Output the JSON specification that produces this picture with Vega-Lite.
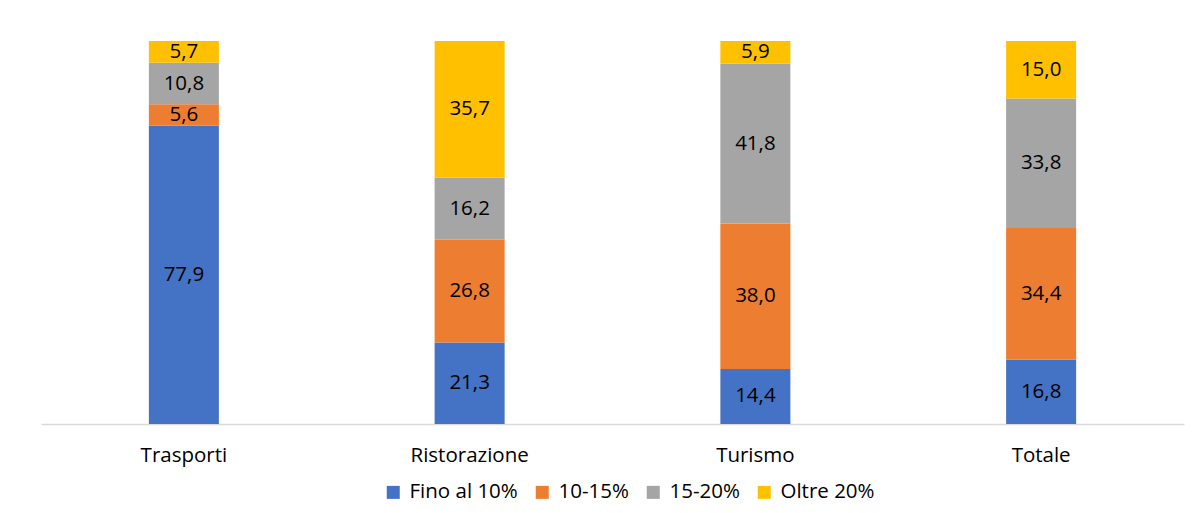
{
  "$schema": "https://vega.github.io/schema/vega-lite/v6.json",
  "width": 1143,
  "height": 383,
  "autosize": "none",
  "padding": {"left": 41, "top": 41, "right": 16, "bottom": 89},
  "background": "white",
  "config": {
    "locale": {"number": {"decimal": ",", "thousands": ".", "grouping": [3], "currency": ["€", ""]}},
    "view": {"stroke": null},
    "font": "Open Sans"
  },
  "data": {
    "values": [
      {"settore": "Trasporti", "classe": "Fino al 10%", "ord": 1, "valore": 77.9},
      {"settore": "Trasporti", "classe": "10-15%", "ord": 2, "valore": 5.6},
      {"settore": "Trasporti", "classe": "15-20%", "ord": 3, "valore": 10.8},
      {"settore": "Trasporti", "classe": "Oltre 20%", "ord": 4, "valore": 5.7},
      {"settore": "Ristorazione", "classe": "Fino al 10%", "ord": 1, "valore": 21.3},
      {"settore": "Ristorazione", "classe": "10-15%", "ord": 2, "valore": 26.8},
      {"settore": "Ristorazione", "classe": "15-20%", "ord": 3, "valore": 16.2},
      {"settore": "Ristorazione", "classe": "Oltre 20%", "ord": 4, "valore": 35.7},
      {"settore": "Turismo", "classe": "Fino al 10%", "ord": 1, "valore": 14.4},
      {"settore": "Turismo", "classe": "10-15%", "ord": 2, "valore": 38.0},
      {"settore": "Turismo", "classe": "15-20%", "ord": 3, "valore": 41.8},
      {"settore": "Turismo", "classe": "Oltre 20%", "ord": 4, "valore": 5.9},
      {"settore": "Totale", "classe": "Fino al 10%", "ord": 1, "valore": 16.8},
      {"settore": "Totale", "classe": "10-15%", "ord": 2, "valore": 34.4},
      {"settore": "Totale", "classe": "15-20%", "ord": 3, "valore": 33.8},
      {"settore": "Totale", "classe": "Oltre 20%", "ord": 4, "valore": 15.0}
    ]
  },
  "transform": [
    {"stack": "valore", "groupby": ["settore"], "sort": [{"field": "ord", "order": "ascending"}], "offset": "normalize", "as": ["y0", "y1"]},
    {"calculate": "(datum.y0 + datum.y1) / 2", "as": "ymid"}
  ],
  "encoding": {
    "x": {
      "field": "settore",
      "type": "nominal",
      "sort": ["Trasporti", "Ristorazione", "Turismo", "Totale"],
      "scale": {"paddingInner": 0.755, "paddingOuter": 0.3775},
      "axis": {
        "title": null,
        "labelAngle": 0,
        "labelFontSize": 20.5,
        "labelColor": "#000000",
        "labelPadding": 21,
        "ticks": false,
        "domainColor": "#d9d9d9",
        "domainWidth": 1.5
      }
    }
  },
  "layer": [
    {
      "mark": {"type": "bar"},
      "encoding": {
        "y": {"field": "y0", "type": "quantitative", "scale": {"domain": [0, 1], "nice": false}, "axis": null},
        "y2": {"field": "y1"},
        "color": {
          "field": "classe",
          "type": "nominal",
          "scale": {
            "domain": ["Fino al 10%", "10-15%", "15-20%", "Oltre 20%"],
            "range": ["#4472C4", "#ED7D31", "#A5A5A5", "#FFC000"]
          },
          "legend": {
            "title": null,
            "orient": "none",
            "direction": "horizontal",
            "legendX": 342,
            "legendY": 441,
            "symbolType": "square",
            "symbolSize": 169,
            "symbolStrokeWidth": 0,
            "labelFontSize": 20.5,
            "labelColor": "#000000",
            "labelOffset": 6,
            "columnPadding": 14
          }
        }
      }
    },
    {
      "mark": {"type": "text", "fontSize": 20.5, "color": "#000000", "baseline": "middle", "align": "center"},
      "encoding": {
        "y": {"field": "ymid", "type": "quantitative", "scale": {"domain": [0, 1], "nice": false}},
        "text": {"field": "valore", "type": "quantitative", "format": ".1f"}
      }
    }
  ]
}
